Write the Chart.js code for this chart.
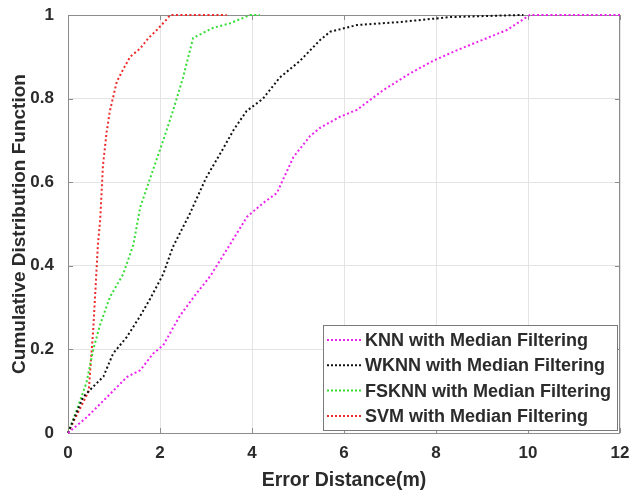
<!DOCTYPE html>
<html lang="en">
<head>
    <meta charset="UTF-8">
    <title>CDF of Error Distance</title>
    <script src="https://cdn.jsdelivr.net/npm/chart.js"></script>
    <style>
        body { margin: 0; background: #fff; }
        #wrap { width: 631px; height: 492px; position: relative; }
    </style>
</head>
<body>
    <div id="wrap"><canvas id="cdfChart"></canvas></div>

    <script>
        // error distance (m) and cumulative probability for each method
        const knnX   = [0, 0.41, 0.85, 1.28, 1.57, 1.85, 2.07, 2.43, 2.8, 3.09, 3.46, 3.89, 4.24, 4.54, 4.9, 5.26, 5.48, 5.9, 6.28, 6.85, 7.43, 7.93, 8.46, 9.0, 9.54, 10.04, 12];
        const knnY   = [0, 0.038, 0.086, 0.134, 0.15, 0.19, 0.21, 0.28, 0.335, 0.375, 0.44, 0.517, 0.55, 0.574, 0.66, 0.71, 0.73, 0.756, 0.773, 0.82, 0.86, 0.89, 0.916, 0.94, 0.964, 1, 1];
        const wknnX  = [0, 0.33, 0.54, 0.77, 0.98, 1.28, 1.57, 1.78, 2.07, 2.28, 2.65, 3.0, 3.37, 3.6, 3.88, 4.24, 4.6, 5.04, 5.48, 5.7, 6.28, 7.2, 8.3, 9.83, 9.9];
        const wknnY  = [0, 0.086, 0.11, 0.135, 0.19, 0.23, 0.28, 0.32, 0.38, 0.445, 0.525, 0.61, 0.68, 0.725, 0.77, 0.80, 0.85, 0.89, 0.94, 0.96, 0.976, 0.983, 0.995, 1, 1];
        const fsknnX = [0, 0.19, 0.4, 0.55, 0.7, 0.91, 1.2, 1.42, 1.57, 1.85, 2.07, 2.28, 2.5, 2.72, 3.15, 3.52, 3.74, 3.96, 4.17];
        const fsknnY = [0, 0.055, 0.12, 0.2, 0.26, 0.325, 0.38, 0.45, 0.54, 0.63, 0.70, 0.77, 0.85, 0.945, 0.969, 0.98, 0.99, 1, 1];
        const svmX   = [0, 0.2, 0.45, 0.55, 0.65, 0.7, 0.76, 0.84, 0.91, 1.06, 1.2, 1.35, 1.57, 1.75, 1.93, 2.15, 2.22, 2.8, 3.45];
        const svmY   = [0, 0.045, 0.1, 0.25, 0.45, 0.51, 0.64, 0.72, 0.77, 0.84, 0.87, 0.90, 0.92, 0.945, 0.964, 0.99, 1, 1, 1];

        const seriesNames = ['KNN with Median Filtering', 'WKNN with Median Filtering', 'FSKNN with Median Filtering', 'SVM with Median Filtering'];
        const seriesColors = ['#ee22ee', '#111111', '#33dd33', '#ee2a2a'];
        const xTicks = [0, 2, 4, 6, 8, 10, 12];
        const yTicks = [0, 0.2, 0.4, 0.6, 0.8, 1];

        const pairs = (xs, ys) => xs.map((x, i) => ({ x: x, y: ys[i] }));
        const allData = [pairs(knnX, knnY), pairs(wknnX, wknnY), pairs(fsknnX, fsknnY), pairs(svmX, svmY)];

        const FONT = 'Arial, "Liberation Sans", sans-serif';
        const TEXT = '#2b2b2b';

        // axes box with inward tick marks, drawn under the curves
        const axesBox = {
            id: 'axesBox',
            beforeDatasetsDraw(chart) {
                const ctx = chart.ctx;
                const a = chart.chartArea;
                const sx = chart.scales.x, sy = chart.scales.y;
                ctx.save();
                ctx.strokeStyle = '#8c8c8c';
                ctx.lineWidth = 1;
                ctx.strokeRect(a.left + 0.5, a.top + 0.5, a.right - a.left - 1, a.bottom - a.top);
                ctx.beginPath();
                xTicks.forEach(v => {
                    const px = Math.round(sx.getPixelForValue(v)) + 0.5;
                    ctx.moveTo(px, a.bottom); ctx.lineTo(px, a.bottom - 5);
                    ctx.moveTo(px, a.top); ctx.lineTo(px, a.top + 5);
                });
                yTicks.forEach(v => {
                    const py = Math.round(sy.getPixelForValue(v)) + 0.5;
                    ctx.moveTo(a.left, py); ctx.lineTo(a.left + 5, py);
                    ctx.moveTo(a.right, py); ctx.lineTo(a.right - 5, py);
                });
                ctx.stroke();

                // y axis title, centred on the plot area
                ctx.translate(20, (a.top + a.bottom) / 2);
                ctx.rotate(-Math.PI / 2);
                ctx.font = 'bold 19px ' + FONT;
                ctx.fillStyle = TEXT;
                ctx.textAlign = 'center';
                ctx.textBaseline = 'middle';
                ctx.fillText('Cumulative Distribution Function', 0, 0);
                ctx.restore();
            }
        };

        // legend box in the lower right corner of the plot
        const innerLegend = {
            id: 'innerLegend',
            afterDraw(chart) {
                const ctx = chart.ctx;
                const lx = 323, ly = 325, lw = 294, lh = 105;
                ctx.save();
                ctx.fillStyle = '#fff';
                ctx.fillRect(lx, ly, lw, lh);
                ctx.strokeStyle = '#7a7a7a';
                ctx.lineWidth = 1;
                ctx.strokeRect(lx + 0.5, ly + 0.5, lw, lh);
                ctx.font = 'bold 18px ' + FONT;
                ctx.textBaseline = 'middle';
                chart.data.datasets.forEach((ds, i) => {
                    const yy = ly + 15 + i * 25.3;
                    ctx.strokeStyle = ds.borderColor;
                    ctx.lineWidth = 2;
                    ctx.setLineDash([2, 2]);
                    ctx.beginPath();
                    ctx.moveTo(lx + 4, yy);
                    ctx.lineTo(lx + 39, yy);
                    ctx.stroke();
                    ctx.setLineDash([]);
                    ctx.fillStyle = TEXT;
                    ctx.fillText(ds.label, lx + 42, yy + 1);
                });
                ctx.restore();
            }
        };

        new Chart(document.getElementById('cdfChart'), {
            type: 'scatter',
            data: {
                datasets: allData.map((d, i) => ({
                    label: seriesNames[i],
                    data: d,
                    showLine: true,
                    borderColor: seriesColors[i],
                    backgroundColor: seriesColors[i],
                    borderWidth: 2,
                    borderDash: [2, 2.5],
                    pointRadius: 0,
                    tension: 0,
                    clip: false
                }))
            },
            options: {
                responsive: true,
                maintainAspectRatio: false,
                animation: false,
                layout: { padding: { top: 15, right: 11, left: 0, bottom: 0 } },
                plugins: {
                    legend: { display: false },
                    tooltip: { enabled: false }
                },
                scales: {
                    x: {
                        type: 'linear',
                        min: 0,
                        max: 12,
                        afterBuildTicks: s => { s.ticks = xTicks.map(v => ({ value: v })); },
                        afterFit: s => { s.height = 59; s.paddingLeft = 0; s.paddingRight = 0; },
                        grid: { color: '#e4e4e4', drawTicks: false },
                        border: { display: false },
                        ticks: {
                            padding: 10,
                            color: TEXT,
                            font: { family: FONT, size: 17, weight: 'bold' }
                        },
                        title: {
                            display: true,
                            text: 'Error Distance(m)',
                            color: TEXT,
                            padding: { top: 0, bottom: 0 },
                            font: { family: FONT, size: 19.5, weight: 'bold' }
                        }
                    },
                    y: {
                        type: 'linear',
                        min: 0,
                        max: 1,
                        afterBuildTicks: s => { s.ticks = yTicks.map(v => ({ value: v })); },
                        afterFit: s => { s.width = 68; s.paddingTop = 0; s.paddingBottom = 0; },
                        grid: { color: '#e4e4e4', drawTicks: false },
                        border: { display: false },
                        ticks: {
                            padding: 14,
                            color: TEXT,
                            font: { family: FONT, size: 17, weight: 'bold' },
                            callback: v => String(v)
                        }
                    }
                }
            },
            plugins: [axesBox, innerLegend]
        });
    </script>
</body>
</html>
